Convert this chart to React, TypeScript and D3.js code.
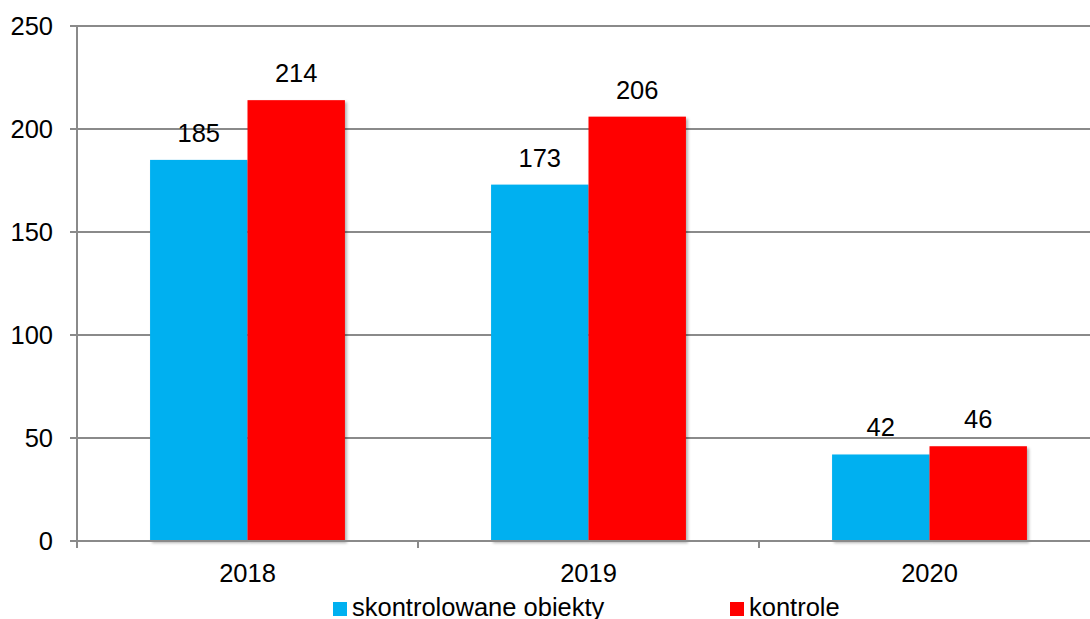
import * as d3 from "d3";

const years = ["2018", "2019", "2020"];
const seriesNames = ["skontrolowane obiekty", "kontrole"];
const obiekty = [185, 173, 42];
const kontrole = [214, 206, 46];
const yTicks = [0, 50, 100, 150, 200, 250];

const colors = ["#00B0F0", "#FF0000"];

const App = () => {
  const width = 1090;
  const height = 619;
  const left = 77;
  const right = 1100;
  const top = 26;
  const bottom = 541;
  const font = "'Liberation Sans', Arial, sans-serif";
  const fs = 25.5;

  const x = d3.scaleBand().domain(years).range([left, right]).padding(0);
  const xs = d3
    .scaleBand()
    .domain(seriesNames)
    .range([0, x.bandwidth()])
    .paddingInner(0)
    .paddingOuter(0.75);
  const y = d3.scaleLinear().domain([0, 250]).range([bottom, top]);

  const values = [obiekty, kontrole];
  const grid = "#8a8a8a";

  // tick positions on x axis (category boundaries)
  const xBounds = years.map((yr) => x(yr)).concat([right]);

  return (
    <svg
      width={width}
      height={height}
      style={{ position: "absolute", left: 0, top: 0, background: "#fff" }}
      fontFamily={font}
    >
      <defs>
        <filter id="sh" x="-10%" y="-10%" width="130%" height="130%">
          <feDropShadow dx="2" dy="2" stdDeviation="1.5" floodColor="#000" floodOpacity="0.3" />
        </filter>
      </defs>

      {/* gridlines */}
      {yTicks.filter((t) => t > 0).map((t) => (
        <line key={t} x1={left} x2={right} y1={y(t)} y2={y(t)} stroke={grid} strokeWidth={2} />
      ))}

      {/* bars */}
      {seriesNames.map((s, si) =>
        years.map((yr, i) => (
          <rect
            key={s + yr}
            x={x(yr)! + xs(s)!}
            y={y(values[si][i])}
            width={xs.bandwidth()}
            height={bottom - y(values[si][i])}
            fill={colors[si]}
            filter="url(#sh)"
          />
        ))
      )}

      {/* value labels */}
      {seriesNames.map((s, si) =>
        years.map((yr, i) => (
          <text
            key={"l" + s + yr}
            x={x(yr)! + xs(s)! + xs.bandwidth() / 2}
            y={y(values[si][i]) - 18}
            textAnchor="middle"
            fontSize={fs}
            fill="#000"
          >
            {values[si][i]}
          </text>
        ))
      )}

      {/* y axis */}
      <line x1={left} x2={left} y1={top} y2={bottom + 7} stroke={grid} strokeWidth={2} />
      {yTicks.map((t) => (
        <g key={"yt" + t}>
          <line x1={left - 7} x2={left} y1={y(t)} y2={y(t)} stroke={grid} strokeWidth={2} />
          <text x={53} y={y(t) + 9} textAnchor="end" fontSize={fs} fill="#000">
            {t}
          </text>
        </g>
      ))}

      {/* x axis */}
      <line x1={left} x2={right} y1={bottom} y2={bottom} stroke={grid} strokeWidth={2} />
      {xBounds.map((b, i) => (
        <line key={"xt" + i} x1={b} x2={b} y1={bottom} y2={bottom + 7} stroke={grid} strokeWidth={2} />
      ))}
      {years.map((yr) => (
        <text
          key={"xl" + yr}
          x={x(yr)! + x.bandwidth() / 2}
          y={582}
          textAnchor="middle"
          fontSize={fs}
          fill="#000"
        >
          {yr}
        </text>
      ))}

      {/* legend */}
      <rect x={333} y={602} width={14} height={14} fill={colors[0]} />
      <text x={352} y={616} fontSize={fs} fill="#000">
        {seriesNames[0]}
      </text>
      <rect x={730} y={602} width={14} height={14} fill={colors[1]} />
      <text x={749} y={616} fontSize={fs} fill="#000">
        {seriesNames[1]}
      </text>
    </svg>
  );
};

export default App;
